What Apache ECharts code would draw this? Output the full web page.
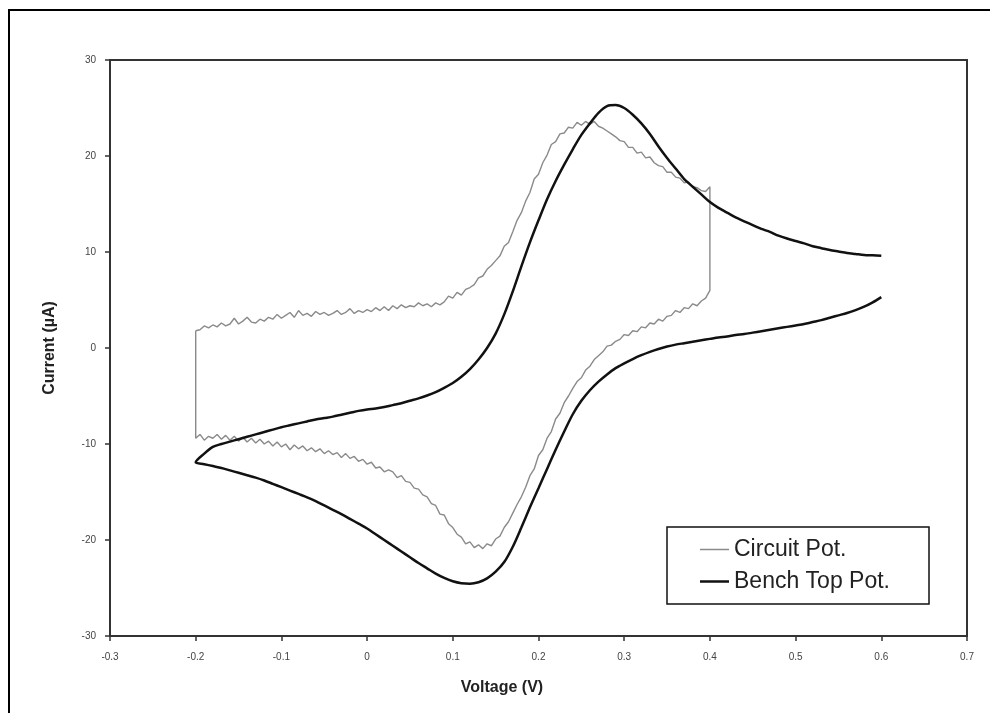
<!DOCTYPE html>
<html>
<head>
<meta charset="utf-8">
<script src="https://cdn.jsdelivr.net/npm/echarts@6/dist/echarts.min.js"></script>
<style>
  html, body { margin: 0; padding: 0; background: #fff; }
  #chart { width: 990px; height: 713px; }
</style>
</head>
<body>
<div id="chart"></div>
<script>
// Cyclic voltammograms: current (µA) vs. applied voltage (V)

// Circuit potentiostat: sampled every 5 mV
const circuitStep = 0.005;
const circuitLow = -0.2;
const circuitHigh = 0.4;
// forward sweep, -0.200 V -> 0.400 V
const circuitForward = [
  1.8, 1.9, 2.3, 2.1, 2.4, 2.2, 2.6, 2.3, 2.5, 3.1,
  2.5, 2.8, 3.2, 2.7, 2.6, 3.0, 2.8, 3.2, 3.0, 3.5,
  3.1, 3.4, 3.7, 3.2, 3.9, 3.4, 3.6, 3.3, 3.8, 3.5,
  3.7, 3.4, 3.6, 3.9, 3.5, 3.7, 4.1, 3.6, 3.9, 3.7,
  4.0, 3.8, 4.2, 3.9, 4.3, 3.9, 4.4, 4.1, 4.5, 4.2,
  4.4, 4.3, 4.7, 4.4, 4.6, 4.3, 4.7, 4.5, 4.8, 5.4,
  5.2, 5.8, 5.5, 6.1, 6.3, 6.6, 7.3, 7.5, 8.2, 8.6,
  9.1, 9.6, 10.6, 11.0, 12.1, 13.3, 14.1, 15.3, 16.2, 17.6,
  18.1, 19.3, 20.1, 21.2, 21.5, 22.3, 22.4, 23.0, 22.9, 23.5,
  23.2, 23.6, 23.3, 23.6, 23.1, 22.9, 22.6, 22.3, 22.0, 21.6,
  21.5, 20.9, 20.9, 20.3, 20.4, 19.8, 19.9, 19.3, 19.0, 18.9,
  18.3, 18.3, 17.8, 17.7, 17.2, 17.3, 16.8, 16.7, 16.4, 16.3,
  16.8
];
// reverse sweep, 0.400 V -> -0.200 V
const circuitReverse = [
  6.0, 5.2, 4.9, 4.4, 4.6, 4.1, 4.2, 3.7, 3.9, 3.4,
  3.3, 2.8, 3.0, 2.5, 2.6, 2.1, 2.2, 1.7, 1.8, 1.3,
  1.4, 0.9, 0.7, 0.3, 0.2, -0.4, -0.8, -1.2, -1.9, -2.3,
  -3.1, -3.5, -4.2, -5.0, -5.7, -6.8, -7.4, -8.7, -9.4, -10.6,
  -11.2, -12.6, -13.3, -14.5, -15.5, -16.3, -17.2, -18.1, -18.7, -19.6,
  -19.9, -20.6, -20.4, -20.9, -20.5, -20.8, -20.2, -20.4, -19.7, -19.4,
  -18.7, -18.3, -17.4, -17.3, -16.4, -16.2, -15.5, -15.3, -14.7, -14.6,
  -14.0, -13.9, -13.3, -13.5, -12.9, -12.7, -12.9, -12.4, -12.5, -11.9,
  -12.1, -11.6, -11.8, -11.3, -11.5, -11.0, -11.4, -10.9, -11.1, -10.7,
  -11.0, -10.5, -10.8, -10.4, -10.7, -10.2, -10.5, -10.1, -10.6, -10.0,
  -10.3, -9.8, -10.2, -9.7, -10.0, -9.5, -9.9, -9.4, -9.8, -9.3,
  -9.7, -9.2, -9.6, -9.1, -9.5, -9.0, -9.4, -9.2, -9.6, -9.0,
  -9.4
];

// Bench-top potentiostat: sampled every 10 mV
const benchStep = 0.01;
const benchLow = -0.2;
const benchHigh = 0.6;
// cathodic branch, 0.60 V -> -0.20 V
const benchReverse = [
  5.3, 4.75, 4.3, 3.95, 3.65, 3.4, 3.15, 2.9, 2.7, 2.5,
  2.35, 2.2, 2.05, 1.9, 1.75, 1.6, 1.45, 1.35, 1.2, 1.1,
  0.95, 0.8, 0.65, 0.5, 0.35, 0.15, -0.1, -0.4, -0.75, -1.15,
  -1.6, -2.1, -2.75, -3.5, -4.4, -5.5, -6.9, -8.7, -10.6, -12.6,
  -14.6, -16.6, -18.7, -20.7, -22.3, -23.3, -24.0, -24.4, -24.55, -24.5,
  -24.3, -23.95, -23.5, -22.95, -22.4, -21.8, -21.2, -20.6, -20.0, -19.4,
  -18.8, -18.3, -17.8, -17.3, -16.85, -16.4, -15.95, -15.55, -15.2, -14.85,
  -14.5, -14.15, -13.8, -13.5, -13.25, -13.0, -12.75, -12.5, -12.3, -12.1,
  -11.9
];
// anodic branch, -0.20 V -> 0.60 V
const benchForward = [
  -11.9, -11.0, -10.3, -10.0, -9.75, -9.5, -9.25, -9.0, -8.75, -8.5,
  -8.25, -8.05, -7.85, -7.65, -7.45, -7.3, -7.15, -6.95, -6.75, -6.55,
  -6.4, -6.3, -6.15, -5.95, -5.75, -5.5, -5.25, -4.95, -4.6, -4.15,
  -3.65, -3.0, -2.2, -1.2, 0.0, 1.5, 3.5, 5.9, 8.5, 11.0,
  13.3, 15.5, 17.4, 19.1, 20.7, 22.2, 23.4, 24.5, 25.2, 25.3,
  25.0, 24.3, 23.4, 22.3, 21.0, 19.8, 18.7, 17.6, 16.8, 16.0,
  15.2, 14.6, 14.1, 13.6, 13.2, 12.8, 12.4, 12.1, 11.7, 11.4,
  11.15, 10.9, 10.6, 10.4, 10.2, 10.05, 9.9, 9.8, 9.7, 9.65,
  9.6
];

// Axis ranges
const xRange = [-0.3, 0.7, 0.1];
const yRange = [-30, 30, 10];

const seriesNames = ['Circuit Pot.', 'Bench Top Pot.'];

// Pair each current with the voltage of its sweep position
function sweep(values, start, step, dir) {
  return values.map((c, i) => [+(start + dir * i * step).toFixed(4), c]);
}

const circuitPoints = sweep(circuitForward, circuitLow, circuitStep, 1)
  .concat(sweep(circuitReverse, circuitHigh, circuitStep, -1));
circuitPoints.push(circuitPoints[0]); // close the cycle at the low vertex

const benchPoints = sweep(benchReverse, benchHigh, benchStep, -1)
  .concat(sweep(benchForward, benchLow, benchStep, 1));

const FONT = '"Liberation Sans", Arial, sans-serif';
const AXIS_COLOR = '#333';
const CIRCUIT_COLOR = '#8a8a8a';
const BENCH_COLOR = '#111';

const chart = echarts.init(document.getElementById('chart'), null, { renderer: 'canvas' });

chart.setOption({
  animation: false,
  backgroundColor: '#ffffff',
  grid: {
    left: 110, right: 23, top: 60, bottom: 77,
    show: true, borderColor: AXIS_COLOR, borderWidth: 2, backgroundColor: 'transparent'
  },
  xAxis: {
    type: 'value',
    min: xRange[0], max: xRange[1], interval: xRange[2],
    axisLine: { show: true, onZero: false, lineStyle: { color: AXIS_COLOR, width: 2 } },
    axisTick: { show: true, inside: false, length: 5, lineStyle: { color: AXIS_COLOR, width: 1.5 } },
    axisLabel: {
      color: '#444', fontSize: 10, fontFamily: FONT, margin: 16,
      formatter: v => String(+v.toFixed(1))
    },
    splitLine: { show: false }
  },
  yAxis: {
    type: 'value',
    min: yRange[0], max: yRange[1], interval: yRange[2],
    axisLine: { show: true, onZero: false, lineStyle: { color: AXIS_COLOR, width: 2 } },
    axisTick: { show: true, inside: false, length: 5, lineStyle: { color: AXIS_COLOR, width: 1.5 } },
    axisLabel: { color: '#444', fontSize: 10, fontFamily: FONT, margin: 14 },
    splitLine: { show: false }
  },
  legend: {
    orient: 'vertical',
    left: 700, top: 538,
    itemWidth: 29, itemHeight: 22, itemGap: 9,
    padding: 0,
    symbolKeepAspect: true,
    textStyle: { fontSize: 23, color: '#222', fontFamily: FONT, lineHeight: 22 },
    data: [
      { name: seriesNames[0], icon: 'path://M0,0H58V3H0Z', itemStyle: { color: CIRCUIT_COLOR, borderWidth: 0 } },
      { name: seriesNames[1], icon: 'path://M0,0H58V5H0Z', itemStyle: { color: BENCH_COLOR, borderWidth: 0 } }
    ]
  },
  graphic: [
    {
      type: 'rect', z: -10, silent: true,
      shape: { x: 9, y: 10, width: 1000, height: 720 },
      style: { fill: 'none', stroke: '#000', lineWidth: 2 }
    },
    {
      type: 'rect', z: -5, silent: true,
      shape: { x: 667, y: 527, width: 262, height: 77 },
      style: { fill: '#fff', stroke: '#111', lineWidth: 1.5 }
    },
    {
      type: 'text', silent: true,
      x: 502, y: 688,
      style: {
        text: 'Voltage (V)', font: 'bold 16px ' + FONT, fill: '#222',
        textAlign: 'center', textVerticalAlign: 'middle', align: 'center', verticalAlign: 'middle'
      }
    },
    {
      type: 'text', silent: true,
      x: 50, y: 348, rotation: Math.PI / 2,
      style: {
        text: 'Current (µA)', font: 'bold 16px ' + FONT, fill: '#222',
        textAlign: 'center', textVerticalAlign: 'middle', align: 'center', verticalAlign: 'middle'
      }
    }
  ],
  series: [
    {
      name: seriesNames[0],
      type: 'line',
      data: circuitPoints,
      symbol: 'none',
      z: 2,
      lineStyle: { color: CIRCUIT_COLOR, width: 1.4 },
      itemStyle: { color: CIRCUIT_COLOR }
    },
    {
      name: seriesNames[1],
      type: 'line',
      data: benchPoints,
      symbol: 'none',
      smooth: 0.3,
      z: 3,
      lineStyle: { color: BENCH_COLOR, width: 2.5 },
      itemStyle: { color: BENCH_COLOR }
    }
  ]
});
</script>
</body>
</html>
